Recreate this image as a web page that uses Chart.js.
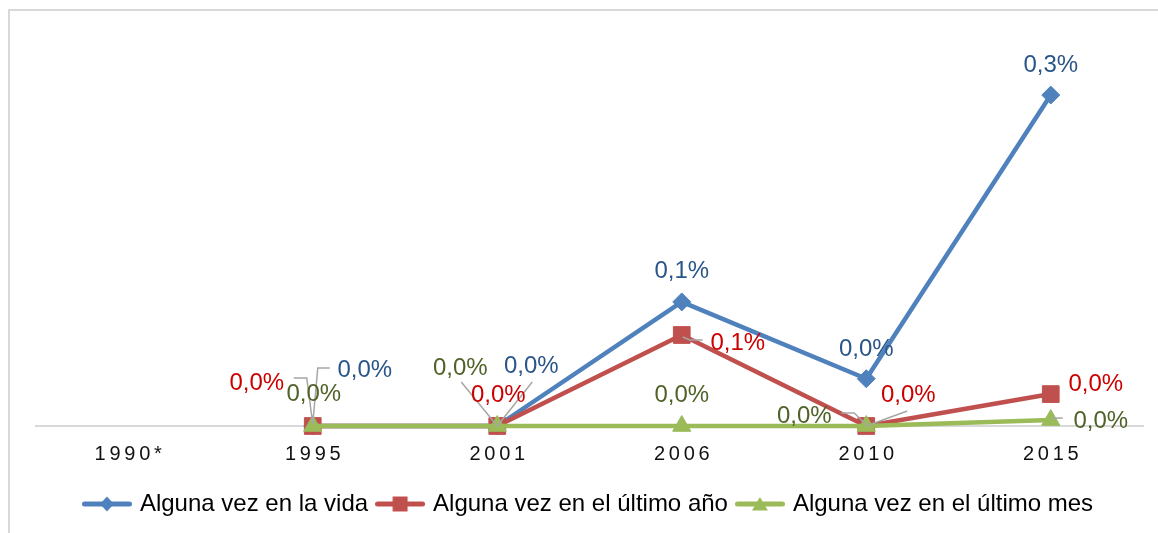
<!DOCTYPE html>
<html lang="es">
<head>
<meta charset="utf-8">
<title>Consumo: alguna vez en la vida, último año y último mes</title>
<script src="https://cdn.jsdelivr.net/npm/chart.js@4.4.1/dist/chart.umd.min.js"></script>
<style>
  html, body { margin: 0; padding: 0; background: #fff; overflow: hidden; }
  #wrap { position: relative; width: 1158px; height: 533px; overflow: hidden; }
  #frame { position: absolute; left: 8px; top: 9px; width: 1200px; height: 600px;
           border-left: 2px solid #D9D9D9; border-top: 2px solid #D9D9D9; }
  canvas { position: absolute; left: 0; top: 0; }
</style>
</head>
<body>
<div id="wrap">
  <div id="frame"></div>
  <canvas id="c" width="1158" height="533"></canvas>
</div>
<script>
// Survey years (1990 has no measurement)
const years = ['1990*', '1995', '2001', '2006', '2010', '2015'];
const seriesNames = [
  'Alguna vez en la vida',
  'Alguna vez en el último año',
  'Alguna vez en el último mes'
];
// Prevalence, in percent
const vida       = [null, 0, 0, 0.105, 0.04, 0.28];
const ultimoAnio = [null, 0, 0, 0.077, 0,    0.027];
const ultimoMes  = [null, 0, 0, 0,     0,    0.005];

const lineColors  = ['#4F81BD', '#C0504D', '#9BBB59'];
const labelColors = ['#2A5589', '#CC0000', '#4F6228'];
const FONT = '"Liberation Sans", Arial, sans-serif';

// Where each value label sits, relative to its point (dx, dy of the text centre)
const labelOffsets = [
  [null, [52, -58], [34, -62], [0, -32], [0, -31], [0, -32]],
  [null, [-56, -45], [1, -33], [56, 6], [42, -33], [45, -12]],
  [null, [1, -34], [-37, -60], [0, -33], [-62, -12], [50, -1]]
];
// Gray leader lines joining displaced labels to their points
const leaders = [
  [null, [[17, -58], [5, -58], [0, -2]], [[35, -44], [0, 0]], null, null, null],
  [null, [[-19, -48], [-6, -48], [0, -2]], null, [[1, 2], [8, 5], [21, 5]], [[0, 0], [41, -15]], null],
  [null, null, [[-36, -44], [0, 0]], null, [[-25, -13], [-12, -13], [0, -1]], [[1, -2], [12, -2]]]
];

function fmtPct(v) {
  return v.toFixed(1).replace('.', ',') + '%';
}

// Legend swatch: a short line with the series marker in the middle
function legendIcon(color, shape) {
  const c = document.createElement('canvas');
  c.width = 50; c.height = 20;
  const g = c.getContext('2d');
  g.strokeStyle = color; g.fillStyle = color;
  g.lineWidth = 5; g.lineCap = 'round';
  g.beginPath(); g.moveTo(2.5, 10); g.lineTo(47.5, 10); g.stroke();
  g.beginPath();
  if (shape === 'diamond') {
    g.moveTo(25, 2.5); g.lineTo(32, 10); g.lineTo(25, 17.5); g.lineTo(18, 10);
  } else if (shape === 'square') {
    g.rect(17.5, 2.5, 15, 15);
  } else {
    g.moveTo(25, 3); g.lineTo(33, 16.5); g.lineTo(17, 16.5);
  }
  g.closePath(); g.fill();
  return c;
}
const legendIcons = [
  legendIcon(lineColors[0], 'diamond'),
  legendIcon(lineColors[1], 'square'),
  legendIcon(lineColors[2], 'triangle')
];

const valueLabels = {
  id: 'valueLabels',
  afterDatasetsDraw(chart) {
    const ctx = chart.ctx;
    ctx.save();
    chart.data.datasets.forEach((ds, di) => {
      const meta = chart.getDatasetMeta(di);
      ds.data.forEach((v, i) => {
        const path = leaders[di][i];
        if (v === null || !path) return;
        const p = meta.data[i];
        ctx.strokeStyle = '#A6A6A6';
        ctx.lineWidth = 1.5;
        ctx.beginPath();
        path.forEach(([dx, dy], k) => {
          if (k === 0) ctx.moveTo(p.x + dx, p.y + dy); else ctx.lineTo(p.x + dx, p.y + dy);
        });
        ctx.stroke();
      });
    });
    ctx.font = '24px ' + FONT;
    ctx.textAlign = 'center';
    ctx.textBaseline = 'alphabetic';
    chart.data.datasets.forEach((ds, di) => {
      const meta = chart.getDatasetMeta(di);
      ds.data.forEach((v, i) => {
        if (v === null) return;
        const p = meta.data[i];
        const [dx, dy] = labelOffsets[di][i];
        ctx.fillStyle = labelColors[di];
        ctx.fillText(fmtPct(v), p.x + dx, p.y + dy + 8.5);
      });
    });
    ctx.restore();
  },
  afterDraw(chart) {
    // spaced-out year labels under the axis
    const ctx = chart.ctx;
    const xs = chart.scales.x;
    const spacing = 3.75;
    ctx.save();
    ctx.font = '20px ' + FONT;
    ctx.letterSpacing = spacing + 'px';
    ctx.fillStyle = '#111';
    ctx.textAlign = 'left';
    ctx.textBaseline = 'alphabetic';
    years.forEach((y, i) => {
      const cx = xs.getPixelForValue(i);
      const w = ctx.measureText(y).width - spacing;
      ctx.fillText(y, cx - w / 2, xs.top + 34);
    });
    ctx.restore();
  }
};

function series(idx, data, style, radius, order) {
  return {
    label: seriesNames[idx],
    data: data,
    borderColor: lineColors[idx],
    backgroundColor: lineColors[idx],
    pointBackgroundColor: lineColors[idx],
    pointBorderColor: lineColors[idx],
    borderWidth: 4.5,
    borderJoinStyle: 'round',
    pointStyle: style,
    pointRadius: radius,
    pointHoverRadius: radius,
    pointBorderWidth: 1,
    tension: 0,
    clip: false,
    order: order
  };
}

new Chart(document.getElementById('c'), {
  type: 'line',
  data: {
    labels: years,
    datasets: [
      series(0, vida, 'rectRot', 9, 2),
      series(1, ultimoAnio, 'rect', 11.8, 1),
      series(2, ultimoMes, 'triangle', 10.5, 0)
    ]
  },
  options: {
    responsive: false,
    devicePixelRatio: 1,
    animation: false,
    layout: { padding: { left: 21, right: 0, top: 36, bottom: 7 } },
    scales: {
      x: {
        type: 'category',
        offset: true,
        grid: { display: false },
        border: { display: true, color: '#D9D9D9', width: 2 },
        ticks: { display: false },
        afterFit: s => { s.height = 55; }
      },
      y: {
        type: 'linear',
        min: 0, max: 0.33,
        display: true,
        grid: { display: false },
        border: { display: false },
        ticks: { display: false },
        afterFit: s => { s.width = 15; }
      },
      yRight: {
        type: 'linear',
        position: 'right',
        min: 0, max: 1,
        display: true,
        grid: { display: false },
        border: { display: false },
        ticks: { display: false },
        afterFit: s => { s.width = 15; }
      }
    },
    plugins: {
      tooltip: { enabled: false },
      legend: {
        position: 'bottom',
        labels: {
          usePointStyle: true,
          pointStyleWidth: 42,
          padding: 11,
          color: '#000',
          font: { family: FONT, size: 24 },
          sort: (a, b) => a.datasetIndex - b.datasetIndex,
          generateLabels(chart) {
            const items = Chart.defaults.plugins.legend.labels.generateLabels(chart);
            items.forEach(it => { it.pointStyle = legendIcons[it.datasetIndex]; });
            return items;
          }
        }
      }
    }
  },
  plugins: [valueLabels]
});
</script>
</body>
</html>
